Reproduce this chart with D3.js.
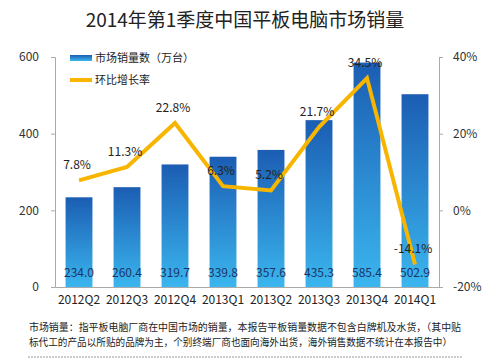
<!DOCTYPE html>
<html><head><meta charset="utf-8">
<script src="https://cdn.jsdelivr.net/npm/d3@7/dist/d3.min.js"></script>
<style>body{margin:0;background:#fff;}svg{display:block;}</style>
</head><body>
<script>
const categories = ["2012Q2","2012Q3","2012Q4","2013Q1","2013Q2","2013Q3","2013Q4","2014Q1"];
const sales = [234.0,260.4,319.7,339.8,357.6,435.3,585.4,502.9];
const growth = [7.8,11.3,22.8,6.3,5.2,21.7,34.5,-14.1];
const leftTicks = [0,200,400,600];
const rightTicks = [-20,0,20,40];
const title = "2014年第1季度中国平板电脑市场销量";
const legendLabels = ["市场销量数（万台）","环比增长率"];
const notes = ["市场销量：指平板电脑厂商在中国市场的销量，本报告平板销量数据不包含白牌机及水货，（其中贴",
               "标代工的产品以所贴的品牌为主，个别终端厂商也面向海外出货，海外销售数据不统计在本报告中）"];

const W=491,H=361;
const svg=d3.select("body").append("svg").attr("width",W).attr("height",H);
const font="'Noto Sans CJK SC','Microsoft YaHei',sans-serif";
const defs=svg.append("defs");
const g1=defs.append("linearGradient").attr("id","bar").attr("x1",0).attr("y1",0).attr("x2",0).attr("y2",1);
g1.append("stop").attr("offset","0%").attr("stop-color","#1b5db3");
g1.append("stop").attr("offset","100%").attr("stop-color","#3bb6ee");

const L=55,R=439,T=57,B=287;
const x=d3.scaleBand().domain(categories).range([L,R]).paddingInner(0.44).paddingOuter(0.22);
const y=d3.scaleLinear().domain([0,600]).range([B,T]);
const y2=d3.scaleLinear().domain([-20,40]).range([B,T]);

svg.append("text").attr("x",245).attr("y",27).attr("text-anchor","middle")
  .attr("font-family",font).attr("font-size",19).attr("fill","#222").text(title);

// axes
const axL=svg.append("g").attr("transform",`translate(${L},0)`)
  .call(d3.axisLeft(y).tickValues(leftTicks).tickSize(4).tickPadding(12));
const axR=svg.append("g").attr("transform",`translate(${R},0)`)
  .call(d3.axisRight(y2).tickValues(rightTicks).tickSize(4).tickPadding(10).tickFormat(d=>d+"%"));
[axL,axR].forEach(a=>{a.selectAll("path,line").attr("stroke","#aaa");
  a.selectAll("text").attr("font-family",font).attr("font-size",12).attr("fill","#333");});
const axB=svg.append("g").attr("transform",`translate(0,${B})`)
  .call(d3.axisBottom(x).tickSize(0).tickPadding(8));
axB.select("path").attr("stroke","#aaa");
axB.selectAll("text").attr("font-family",font).attr("font-size",12).attr("fill","#222");

// bars
svg.append("g").selectAll("rect").data(sales).join("rect")
  .attr("x",(d,i)=>x(categories[i])).attr("width",x.bandwidth())
  .attr("y",d=>y(d)).attr("height",d=>B-y(d)).attr("fill","url(#bar)");
svg.append("g").selectAll("text").data(sales).join("text")
  .attr("x",(d,i)=>x(categories[i])+x.bandwidth()/2).attr("y",B-10)
  .attr("text-anchor","middle").attr("font-family",font).attr("font-size",12)
  .attr("fill","#1a3566").text(d=>d.toFixed(1));

// line
const cx=(i)=>x(categories[i])+x.bandwidth()/2;
svg.append("path").datum(growth).attr("fill","none").attr("stroke","#f7b500").attr("stroke-width",4)
  .attr("stroke-linejoin","miter")
  .attr("d",d3.line().x((d,i)=>cx(i)).y(d=>y2(d)));
svg.append("g").selectAll("text").data(growth).join("text")
  .attr("x",(d,i)=>cx(i)-2).attr("y",d=>y2(d)-11)
  .attr("text-anchor","middle").attr("font-family",font).attr("font-size",12)
  .attr("fill","#222").text(d=>d.toFixed(1)+"%");

// legend
svg.append("rect").attr("x",70).attr("y",55).attr("width",22).attr("height",6).attr("fill","url(#bar)");
svg.append("line").attr("x1",70).attr("x2",92).attr("y1",80).attr("y2",80).attr("stroke","#f7b500").attr("stroke-width",4);
svg.append("text").attr("x",95).attr("y",62).attr("font-family",font).attr("font-size",11).attr("fill","#222").text(legendLabels[0]);
svg.append("text").attr("x",95).attr("y",84).attr("font-family",font).attr("font-size",11).attr("fill","#222").text(legendLabels[1]);

// notes
notes.forEach((t,i)=>{
  svg.append("text").attr("x",29).attr("y",331+i*15).attr("font-family",font).attr("font-size",10)
    .attr("fill","#222").attr("textLength",i==0?432:423).attr("lengthAdjust","spacingAndGlyphs").text(t);
});
svg.append("line").attr("x1",28).attr("x2",462).attr("y1",357).attr("y2",357)
  .attr("stroke","#bbb").attr("stroke-dasharray","2,1").attr("stroke-width",1.5);
</script>
</body></html>
